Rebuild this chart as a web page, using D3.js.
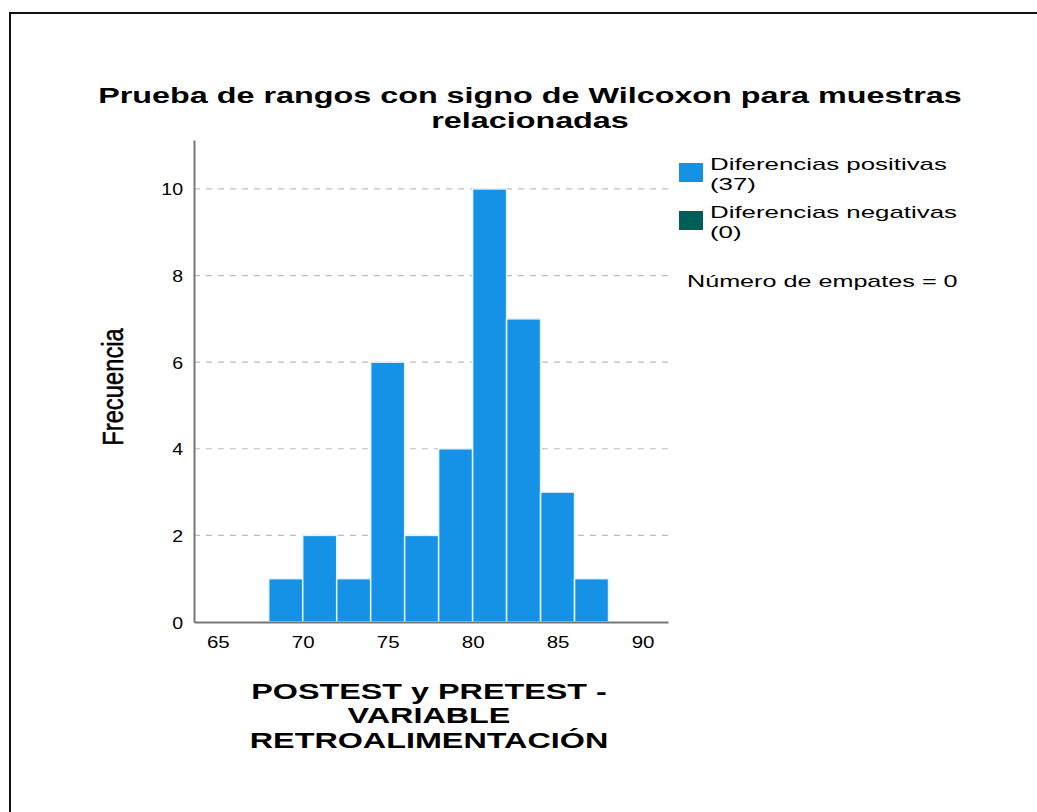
<!DOCTYPE html>
<html>
<head>
<meta charset="utf-8">
<script src="https://cdn.jsdelivr.net/npm/d3@7"></script>
<style>
  html, body { margin: 0; padding: 0; background: #fff; }
  svg { display: block; }
  text { font-family: "Liberation Sans", Arial, sans-serif; fill: #000; }
</style>
</head>
<body>
<svg id="chart" width="1037" height="812"></svg>
<script>
// ---- data ----
const binLo = [68, 70, 72, 74, 76, 78, 80, 82, 84, 86];
const binHi = [70, 72, 74, 76, 78, 80, 82, 84, 86, 88];
const counts = [1, 2, 1, 6, 2, 4, 10, 7, 3, 1];
const xTicks = [65, 70, 75, 80, 85, 90];
const yTicks = [0, 2, 4, 6, 8, 10];
const gridTicks = [2, 4, 6, 8, 10];
const titleLines = ["Prueba de rangos con signo de Wilcoxon para muestras", "relacionadas"];
const xTitleLines = ["POSTEST y PRETEST -", "VARIABLE", "RETROALIMENTACIÓN"];
const yTitle = "Frecuencia";
const legendNames = ["Diferencias positivas", "Diferencias negativas"];
const legendCounts = ["(37)", "(0)"];
const legendColors = ["#1591E6", "#005E59"];
const tiesNote = "Número de empates = 0";

// ---- layout ----
const svg = d3.select("#chart");
const x = d3.scaleLinear().domain([63.6, 91.5]).range([194, 668]);
const y = d3.scaleLinear().domain([0, 11.13]).range([622, 140]);

function stext(parent, str, tx, ty, size, sx, anchor, weight, extra) {
  return parent.append("text")
    .attr("transform", `translate(${tx},${ty})${extra || ""} scale(${sx},1)`)
    .attr("text-anchor", anchor)
    .attr("font-size", size)
    .attr("font-weight", weight || "normal")
    .text(str);
}

// frame
svg.append("rect")
  .attr("x", 10).attr("y", 13)
  .attr("width", 1100).attr("height", 900)
  .attr("fill", "none").attr("stroke", "#111").attr("stroke-width", 2);

// title
titleLines.forEach((t, i) => {
  stext(svg, t, 530, 103 + i * 25, 22, 1.47, "middle", "bold");
});

// gridlines
svg.append("g").selectAll("line").data(gridTicks).join("line")
  .attr("x1", x.range()[0]).attr("x2", x.range()[1])
  .attr("y1", d => y(d)).attr("y2", d => y(d))
  .attr("stroke", "#bdbdbd").attr("stroke-width", 1.2)
  .attr("stroke-dasharray", "6,6");

// bars
svg.append("g").selectAll("rect").data(counts).join("rect")
  .attr("x", (d, i) => x(binLo[i]))
  .attr("width", (d, i) => x(binHi[i]) - x(binLo[i]))
  .attr("y", d => y(d))
  .attr("height", d => y(0) - y(d))
  .attr("fill", legendColors[0])
  .attr("stroke", "#e6f2fc").attr("stroke-width", 1.5);

// axes
const xAxis = d3.axisBottom(x).tickValues(xTicks).tickSize(0).tickPadding(0);
const gx = svg.append("g").attr("transform", `translate(0,${y(0)})`).call(xAxis);
gx.select(".domain").attr("stroke", "#777").attr("stroke-width", 2);
gx.selectAll(".tick text").remove();
gx.selectAll(".tick").each(function(d) {
  stext(d3.select(this), d, 0, 26, 16, 1.28, "middle");
});

const yAxis = d3.axisLeft(y).tickValues(yTicks).tickSize(0).tickPadding(0);
const gy = svg.append("g").attr("transform", `translate(${x.range()[0]},0)`).call(yAxis);
gy.select(".domain").attr("stroke", "#777").attr("stroke-width", 2);
gy.selectAll(".tick text").remove();
gy.selectAll(".tick").each(function(d) {
  stext(d3.select(this), d, -11, 6, 16, 1.22, "end");
});

// axis titles
stext(svg, yTitle, 123, 387, 29, 0.82, "middle", "normal", " rotate(-90)")
  .attr("stroke", "#000").attr("stroke-width", 0.5);
xTitleLines.forEach((t, i) => {
  stext(svg, t, 429, [699, 723, 748][i], 22, 1.47, "middle", "bold");
});

// legend
const lg = svg.append("g");
legendNames.forEach((name, i) => {
  const top = 163 + i * 48;
  lg.append("rect").attr("x", 679).attr("y", top).attr("width", 24).attr("height", 19)
    .attr("fill", legendColors[i]);
  stext(lg, name, 710, top + 7, 17, 1.52, "start");
  stext(lg, legendCounts[i], 710, top + 27, 17, 1.52, "start");
});
stext(lg, tiesNote, 687, 287, 17, 1.48, "start");
</script>
</body>
</html>
